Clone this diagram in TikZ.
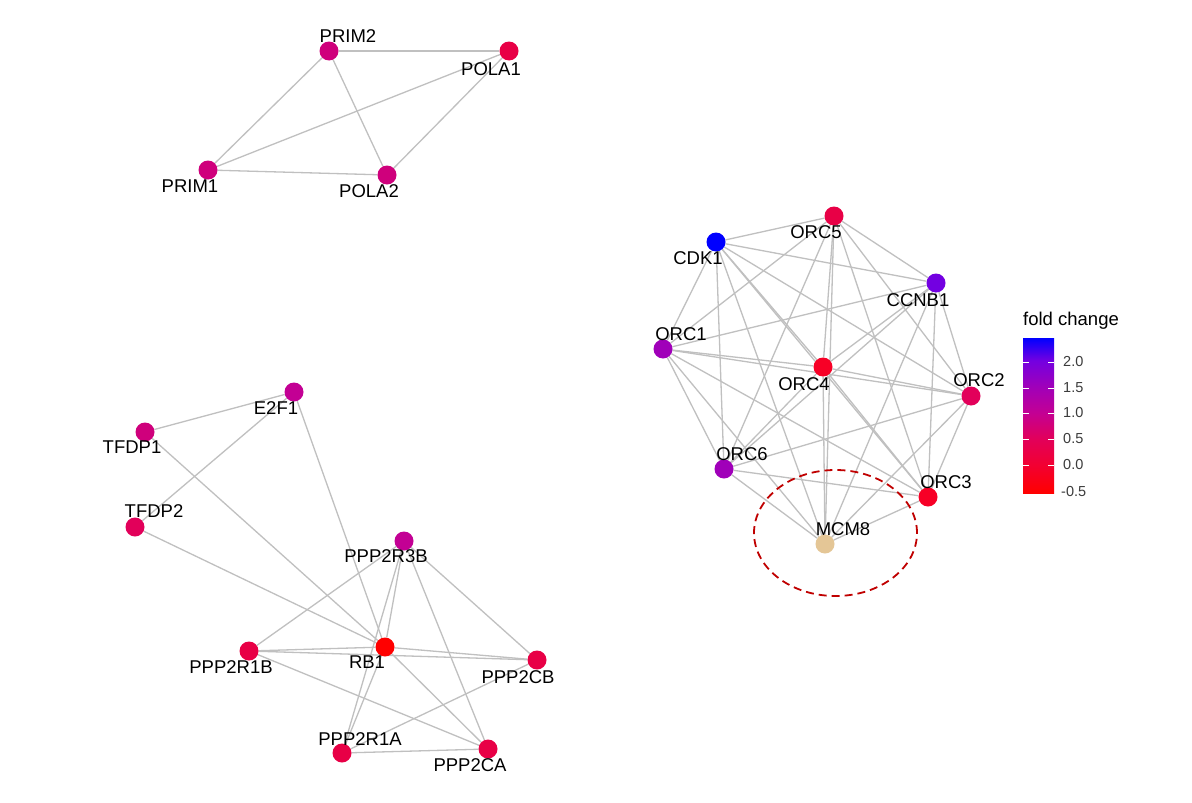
\documentclass[tikz,border=0pt]{standalone}
\usepackage{fontspec}
\setsansfont{Liberation Sans}
\usetikzlibrary{positioning}
\definecolor{edgegray}{RGB}{192,192,192}
\definecolor{ringred}{RGB}{192,0,0}
\definecolor{ticktext}{RGB}{60,60,60}
% fold change colours
\definecolor{fcblue}{RGB}{0,0,255}
\definecolor{fcviolet}{RGB}{115,0,225}
\definecolor{fcpurple}{RGB}{160,0,185}
\definecolor{fcmagenta}{RGB}{195,0,148}
\definecolor{fcpink}{RGB}{207,0,124}
\definecolor{fccrimson}{RGB}{232,0,70}
\definecolor{fcrose}{RGB}{226,0,90}
\definecolor{fcred}{RGB}{247,0,38}
\definecolor{fcpure}{RGB}{255,0,0}
\definecolor{fctan}{RGB}{228,198,150}
\definecolor{fczero}{RGB}{242,0,50}
\pgfdeclareverticalshading{foldbar}{100bp}{color(0bp)=(fcpure); color(25bp)=(fcpure); color(34.1bp)=(fczero); color(42.5bp)=(fcrose); color(50.9bp)=(fcmagenta); color(59.3bp)=(fcpurple); color(67.8bp)=(fcviolet); color(75bp)=(fcblue); color(100bp)=(fcblue)}
\pgfdeclarelayer{paper}
\pgfdeclarelayer{bg}
\pgfsetlayers{paper,bg,main}
\tikzset{
  gene/.style={circle, inner sep=0pt, minimum size=19pt},
  lbl/.style={font=\sffamily\fontsize{18.5}{20}\selectfont, inner sep=0pt},
  edge/.style={edgegray, line width=1.3pt},
  tick/.style={font=\sffamily\fontsize{14.5}{16}\selectfont, text=ticktext, anchor=west, inner sep=0pt}
}

\begin{document}
\begin{tikzpicture}[x=1pt, y=-1pt]
\begin{pgfonlayer}{paper}
\fill[white] (0,0) rectangle (1192,803);
\end{pgfonlayer}
\useasboundingbox (0,0) rectangle (1192,803);

% Primase / polymerase alpha
\node[gene, fill=fcpink] (prim2) at (329,51) {};
\node[gene, fill=fccrimson] (pola1) at (509,51) {};
\node[gene, fill=fcpink] (prim1) at (208,170) {};
\node[gene, fill=fcpink] (pola2) at (387,175) {};

% E2F / PP2A module
\node[gene, fill=fcmagenta] (e2f1) at (294,392) {};
\node[gene, fill=fcpink] (tfdp1) at (145,432) {};
\node[gene, fill=fcrose] (tfdp2) at (135,527) {};
\node[gene, fill=fcmagenta] (ppp2r3b) at (404,541) {};
\node[gene, fill=fcpure] (rb1) at (385,647) {};
\node[gene, fill=fccrimson] (ppp2r1b) at (249,651) {};
\node[gene, fill=fccrimson] (ppp2cb) at (537,660) {};
\node[gene, fill=fccrimson] (ppp2r1a) at (342,753) {};
\node[gene, fill=fccrimson] (ppp2ca) at (488,749) {};

% ORC module
\node[gene, fill=fcblue] (cdk1) at (716,242) {};
\node[gene, fill=fccrimson] (orc5) at (834,216) {};
\node[gene, fill=fcviolet] (ccnb1) at (936,283) {};
\node[gene, fill=fcpurple] (orc1) at (663,349) {};
\node[gene, fill=fcred] (orc4) at (823,367) {};
\node[gene, fill=fcrose] (orc2) at (971,396) {};
\node[gene, fill=fcpurple] (orc6) at (724,469) {};
\node[gene, fill=fcred] (orc3) at (928,497) {};
\node[gene, fill=fctan] (mcm8) at (825,544) {};

% Edges
\begin{pgfonlayer}{bg}
\foreach \a/\b in {prim2/pola1, prim2/prim1, prim2/pola2, prim1/pola1, prim1/pola2, pola2/pola1,
  tfdp1/e2f1, tfdp2/e2f1, tfdp1/rb1, tfdp2/rb1, e2f1/rb1,
  ppp2r3b/ppp2r1b, ppp2r3b/rb1, ppp2r3b/ppp2r1a, ppp2r3b/ppp2ca, ppp2r3b/ppp2cb,
  ppp2r1b/rb1, ppp2r1b/ppp2cb, ppp2r1b/ppp2ca, rb1/ppp2cb, rb1/ppp2r1a, rb1/ppp2ca,
  ppp2r1a/ppp2ca, ppp2r1a/ppp2cb}
  \draw[edge] (\a) -- (\b);
\foreach \a [count=\i] in {cdk1,orc5,ccnb1,orc1,orc4,orc2,orc6,orc3,mcm8}
  \foreach \b [count=\j] in {cdk1,orc5,ccnb1,orc1,orc4,orc2,orc6,orc3,mcm8}
    {\ifnum\j>\i \draw[edge] (\a) -- (\b); \fi}
\end{pgfonlayer}

% Labels
\node[lbl] (prim2-t) at (348,36) {PRIM2};
\node[lbl] (pola1-t) at (491,69) {POLA1};
\node[lbl] (prim1-t) at (190,186) {PRIM1};
\node[lbl] (pola2-t) at (369,191) {POLA2};
\node[lbl] (e2f1-t) at (276,408) {E2F1};
\node[lbl] (tfdp1-t) at (132,447) {TFDP1};
\node[lbl] (tfdp2-t) at (154,511) {TFDP2};
\node[lbl] (ppp2r3b-t) at (386,556) {PPP2R3B};
\node[lbl] (rb1-t) at (367,662) {RB1};
\node[lbl] (ppp2r1b-t) at (231,667) {PPP2R1B};
\node[lbl] (ppp2cb-t) at (518,677) {PPP2CB};
\node[lbl] (ppp2r1a-t) at (360,739) {PPP2R1A};
\node[lbl] (ppp2ca-t) at (470,765) {PPP2CA};
\node[lbl] (cdk1-t) at (698,258) {CDK1};
\node[lbl] (orc5-t) at (816,232) {ORC5};
\node[lbl] (ccnb1-t) at (918,300) {CCNB1};
\node[lbl] (orc1-t) at (681,334) {ORC1};
\node[lbl] (orc4-t) at (804,384) {ORC4};
\node[lbl] (orc2-t) at (979,380) {ORC2};
\node[lbl] (orc6-t) at (742,454) {ORC6};
\node[lbl] (orc3-t) at (946,482) {ORC3};
\node[lbl] (mcm8-t) at (843,529) {MCM8};

% Highlight ring
\draw[ringred, line width=1.8pt, dash pattern=on 8pt off 5pt] (835.5,533) ellipse [x radius=81.5pt, y radius=63pt];

% Legend
\node[lbl, anchor=west] (legend-t) at (1023,321) {fold change};
\shade[shading=foldbar] (1023,338) rectangle (1054,493);
\foreach \v/\y in {2.0/362, 1.5/388, 1.0/413, 0.5/439, 0.0/465} {
  \draw[white, line width=0.8pt] (1023,\y) -- (1029,\y);
  \draw[white, line width=0.8pt] (1048,\y) -- (1054,\y);
  \node[tick] (tick-\v) at (1063,\y) {\v};
}
\node[tick] (tick-m05) at (1061,492) {-0.5};
\end{tikzpicture}
\end{document}
